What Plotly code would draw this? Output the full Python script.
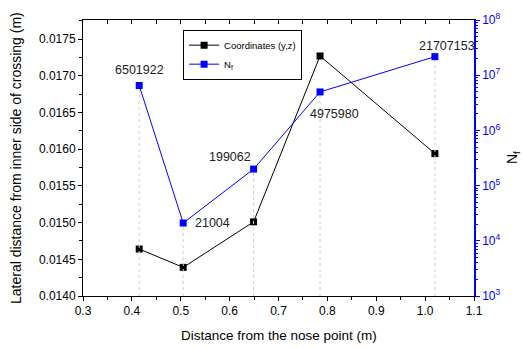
import numpy as np
import plotly.graph_objects as go

dist = [0.415, 0.505, 0.649, 0.785, 1.02]
lateral = [0.01464, 0.01439, 0.01501, 0.01727, 0.01594]
nf = [6501922, 21004, 199062, 4975980, 21707153]
nf_labels = ["6501922", "21004", "199062", "4975980", "21707153"]
label_shift_x = [0, 29, -24, 14, 12]
label_shift_y = [16, 0, 12, -22, 11]
y2_tickvals = [1e3, 1e4, 1e5, 1e6, 1e7, 1e8]
y2_ticktext = ["10<sup>3</sup>", "10<sup>4</sup>", "10<sup>5</sup>", "10<sup>6</sup>", "10<sup>7</sup>", "10<sup>8</sup>"]

FONT = "Liberation Sans, Arial, sans-serif"
fig = go.Figure()

# drop lines
for xv, v in zip(dist, nf):
    fig.add_trace(go.Scatter(x=[xv, xv], y=[1e3, v], mode="lines", yaxis="y2",
                             line=dict(color="#cfcfcf", width=1, dash="3px,3px"),
                             showlegend=False, hoverinfo="skip"))

fig.add_trace(go.Scatter(x=dist, y=lateral, mode="lines+markers", name="Coordinates (y,z)",
                         line=dict(color="black", width=1),
                         marker=dict(symbol="square", size=7, color="black")))
fig.add_trace(go.Scatter(x=dist, y=nf, mode="lines+markers", name="N<sub>f</sub>", yaxis="y2",
                         line=dict(color="blue", width=1),
                         marker=dict(symbol="square", size=7, color="blue")))
# invisible trace to carry the top tick axis
fig.add_trace(go.Scatter(x=dist, y=lateral, mode="markers", xaxis="x2", marker=dict(opacity=0),
                         showlegend=False, hoverinfo="skip"))

for xv, v, t, sx, sy in zip(dist, nf, nf_labels, label_shift_x, label_shift_y):
    fig.add_annotation(x=xv, y=np.log10(v), xref="x", yref="y2", text=t, showarrow=False,
                       xshift=sx, yshift=sy, font=dict(size=12.5, color="#222", family=FONT))

# axis titles
fig.add_annotation(x=1.0, y=0.5, xref="paper", yref="paper", xanchor="center", yanchor="middle",
                   xshift=39, text="N<sub>f</sub>", textangle=-90, showarrow=False,
                   font=dict(size=14, color="black", family=FONT))
fig.add_annotation(x=0.0, y=0.5, xref="paper", yref="paper", xanchor="center", yanchor="middle",
                   xshift=-67, text="Lateral distance from inner side of crossing (m)", textangle=-90,
                   showarrow=False, font=dict(size=14, color="black", family=FONT))
fig.add_annotation(x=0.5, y=0.0, xref="paper", yref="paper", xanchor="center", yanchor="middle",
                   yshift=-39, text="Distance from the nose point (m)",
                   showarrow=False, font=dict(size=13.5, color="black", family=FONT))

fig.update_layout(
    width=523, height=348,
    margin=dict(l=83, r=49, t=11, b=52),
    paper_bgcolor="white", plot_bgcolor="white",
    font=dict(family=FONT, color="black"),
    showlegend=True,
    legend=dict(x=0.256, y=0.965, xanchor="left", yanchor="top", bgcolor="white",
                bordercolor="black", borderwidth=1, font=dict(size=9.5, family=FONT),
                itemwidth=30, tracegroupgap=0),
    xaxis=dict(range=[0.3, 1.1], dtick=0.1, tickformat=".1f", showgrid=False, zeroline=False,
               showline=True, linecolor="black", linewidth=1, mirror=True,
               ticks="outside", ticklen=4, tickcolor="black",
               minor=dict(ticks="outside", dtick=0.05, ticklen=3, tickcolor="black"),
               tickfont=dict(size=12)),
    xaxis2=dict(range=[0.3, 1.1], overlaying="x", side="top", showticklabels=False, showgrid=False,
                zeroline=False, ticks="inside", ticklen=4, tickcolor="black", dtick=0.05),
    yaxis=dict(range=[0.0140, 0.01776], dtick=0.0005, tickformat=".4f", showgrid=False, zeroline=False,
               showline=True, linecolor="black", linewidth=1,
               ticks="outside", ticklen=4, tickcolor="black",
               minor=dict(ticks="outside", dtick=0.00025, ticklen=3, tickcolor="black"),
               tickfont=dict(size=12)),
    yaxis2=dict(type="log", range=[3, 8], overlaying="y", side="right", showgrid=False, zeroline=False,
                showline=True, linecolor="blue", linewidth=1.5,
                tickvals=y2_tickvals, ticktext=y2_ticktext,
                ticks="outside", ticklen=4, tickcolor="blue",
                minor=dict(ticks="outside", dtick="D1", ticklen=2, tickcolor="blue"),
                tickfont=dict(size=12, color="blue")),
)

fig.write_html("out.html")
